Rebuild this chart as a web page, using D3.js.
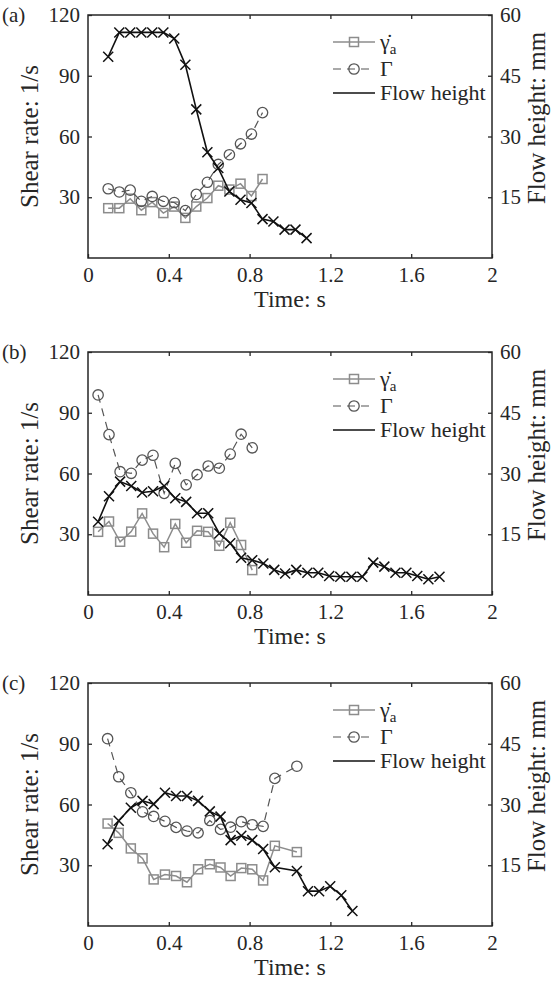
<!DOCTYPE html>
<html lang="en">
<head>
	<meta charset="UTF-8">
	<title>shear rate and flow height</title>
	<script src="https://d3js.org/d3.v7.min.js"></script>
	<style>
		body { margin: 0; background: #fff; }
		text { font-family: "Liberation Serif", serif; fill: #262626; }
	</style>
</head>
<body>
	<script type="text/javascript">
		// panel (a)
		var timeA = [0.10, 0.155, 0.209, 0.264, 0.318, 0.373, 0.427, 0.482, 0.536, 0.591, 0.645, 0.70, 0.755, 0.809, 0.864, 0.918, 0.973, 1.027, 1.082];
		var flowA = [49.7, 55.7, 55.7, 55.7, 55.7, 55.7, 54.2, 47.7, 36.7, 26.1, 22.2, 16.4, 14.4, 13.6, 9.6, 9.0, 7.0, 7.0, 4.9];
		var capGammaA = [34.2, 32.6, 33.5, 28.0, 30.4, 28.0, 27.4, 23.4, 31.4, 37.4, 46.2, 51.0, 56.4, 61.2, 71.8];
		var rateA = [24.6, 24.6, 29.3, 23.6, 27.6, 22.2, 25.4, 19.8, 25.4, 29.6, 35.7, 33.8, 36.7, 30.6, 39.0];

		// panel (b)
		var timeB = [0.05, 0.104, 0.159, 0.214, 0.268, 0.322, 0.377, 0.432, 0.486, 0.54, 0.595, 0.65, 0.704, 0.758, 0.813, 0.868, 0.922, 0.976, 1.031, 1.086, 1.14, 1.194, 1.249, 1.304, 1.358, 1.412, 1.467, 1.522, 1.576, 1.63, 1.685, 1.74];
		var flowB = [18.1, 24.4, 28.0, 26.9, 25.3, 25.6, 26.9, 23.9, 23.0, 20.2, 20.2, 15.2, 12.8, 9.2, 8.6, 7.8, 6.2, 5.3, 6.2, 5.5, 5.5, 4.7, 4.5, 4.5, 4.5, 8.0, 7.0, 5.5, 5.5, 4.7, 3.9, 4.5];
		var capGammaB = [98.8, 79.2, 60.9, 60.1, 66.6, 69.0, 50.2, 65.0, 54.4, 59.4, 63.7, 62.6, 69.6, 79.4, 72.7];
		var rateB = [31.2, 36.3, 26.3, 31.3, 40.3, 30.3, 23.6, 35.1, 25.8, 31.7, 31.2, 24.3, 35.7, 24.7, 12.3];

		// panel (c)
		var timeC = [0.097, 0.152, 0.212, 0.27, 0.325, 0.381, 0.436, 0.49, 0.545, 0.603, 0.656, 0.706, 0.759, 0.813, 0.867, 0.925, 1.034, 1.089, 1.144, 1.199, 1.254, 1.309];
		var flowC = [20.2, 26.0, 29.2, 30.9, 30.1, 32.9, 32.1, 32.1, 30.9, 28.3, 27.0, 21.2, 22.3, 21.2, 19.0, 14.5, 13.6, 8.6, 8.6, 9.8, 7.6, 3.7];
		var capGammaC = [92.5, 73.7, 65.8, 56.4, 54.1, 51.7, 48.7, 46.9, 46.0, 52.1, 47.7, 48.8, 51.5, 50.0, 49.2, 72.9, 78.9];
		var rateC = [50.6, 46.0, 38.3, 33.4, 23.0, 25.4, 24.7, 21.6, 28.0, 30.5, 28.9, 24.7, 28.6, 28.0, 22.5, 39.6, 36.5];

		var panelLabels = ["(a)", "(b)", "(c)"];
		var xTicks = [0, 0.4, 0.8, 1.2, 1.6, 2];
		var leftTicks = [30, 60, 90, 120];
		var rightTicks = [15, 30, 45, 60];

		var w = 551, h = 984;
		var left = 88, right = 492, plotH = 243;
		var tops = [15, 352, 683];

		var rateColor = "#8c8c8c", gammaColor = "#555555", flowColor = "#111111";

		var panels = [
			{t: timeA, flow: flowA, gam: capGammaA, rate: rateA},
			{t: timeB, flow: flowB, gam: capGammaB, rate: rateB},
			{t: timeC, flow: flowC, gam: capGammaC, rate: rateC}
		];

		var svg = d3.select("body").append("svg").attr("width", w).attr("height", h);

		var xScale = d3.scaleLinear().domain([0, 2]).range([left, right]);

		function cross(s) {
			return "M" + (-s) + "," + (-s) + "L" + s + "," + s + "M" + (-s) + "," + s + "L" + s + "," + (-s);
		}

		panels.forEach(function(p, k) {
			var top = tops[k], bottom = top + plotH;
			var yL = d3.scaleLinear().domain([0, 120]).range([bottom, top]);
			var yR = d3.scaleLinear().domain([0, 60]).range([bottom, top]);
			var g = svg.append("g");

			// axes with inward ticks
			var ax = g.append("g").attr("transform", "translate(0," + bottom + ")")
				.call(d3.axisBottom(xScale).tickValues(xTicks).tickSize(-4).tickSizeOuter(0).tickPadding(9)
					.tickFormat(function(d){ return String(d); }));
			g.append("g").attr("transform", "translate(0," + top + ")")
				.call(d3.axisTop(xScale).tickValues(xTicks.slice(1, 5)).tickSize(-4).tickSizeOuter(0).tickFormat(""));
			g.append("g").attr("transform", "translate(" + left + ",0)")
				.call(d3.axisLeft(yL).tickValues(leftTicks).tickSize(-4).tickSizeOuter(0).tickPadding(8));
			g.append("g").attr("transform", "translate(" + right + ",0)")
				.call(d3.axisRight(yR).tickValues(rightTicks).tickSize(-4).tickSizeOuter(0).tickPadding(8));

			g.selectAll(".domain").remove();
			g.selectAll(".tick line").attr("stroke", "#262626").attr("stroke-width", 1.3);
			g.selectAll(".tick text").attr("font-size", "21px").attr("font-family", "Liberation Serif").attr("fill", "#262626");
			ax.selectAll(".tick text").attr("dy", "0.71em");

			g.append("rect").attr("x", left).attr("y", top).attr("width", right - left).attr("height", plotH)
				.attr("fill", "none").attr("stroke", "#262626").attr("stroke-width", 1.5);

			// labels
			g.append("text").text(panelLabels[k]).attr("x", 2).attr("y", top + 7).attr("font-size", "21px");
			g.append("text").text("Time: s").attr("x", (left + right) / 2).attr("y", bottom + 49)
				.attr("text-anchor", "middle").attr("font-size", "24px");
			g.append("text").text("Shear rate: 1/s").attr("text-anchor", "middle").attr("font-size", "25px")
				.attr("transform", "translate(" + 38 + "," + (top + plotH / 2) + ") rotate(-90)");
			g.append("text").text("Flow height: mm").attr("text-anchor", "middle").attr("font-size", "25px")
				.attr("transform", "translate(" + 545 + "," + (top + 103) + ") rotate(-90)");

			// shear rate series (squares, solid)
			var idxR = d3.range(p.rate.length);
			g.append("path").datum(idxR)
				.attr("d", d3.line().x(function(i){ return xScale(p.t[i]); }).y(function(i){ return yL(p.rate[i]); }))
				.attr("fill", "none").attr("stroke", rateColor).attr("stroke-width", 1.5);
			g.selectAll(".sq").data(idxR).enter().append("rect")
				.attr("x", function(i){ return xScale(p.t[i]) - 4.5; })
				.attr("y", function(i){ return yL(p.rate[i]) - 4.5; })
				.attr("width", 9).attr("height", 9)
				.attr("fill", "none").attr("stroke", rateColor).attr("stroke-width", 1.5);

			// Gamma series (circles, dashed)
			var idxG = d3.range(p.gam.length);
			g.append("path").datum(idxG)
				.attr("d", d3.line().x(function(i){ return xScale(p.t[i]); }).y(function(i){ return yL(p.gam[i]); }))
				.attr("fill", "none").attr("stroke", gammaColor).attr("stroke-width", 1.2)
				.attr("stroke-dasharray", "8,6");
			g.selectAll(".ci").data(idxG).enter().append("circle")
				.attr("cx", function(i){ return xScale(p.t[i]); })
				.attr("cy", function(i){ return yL(p.gam[i]); })
				.attr("r", 5.2)
				.attr("fill", "none").attr("stroke", gammaColor).attr("stroke-width", 1.3);

			// flow height (crosses, right axis)
			var idxF = d3.range(p.flow.length);
			g.append("path").datum(idxF)
				.attr("d", d3.line().x(function(i){ return xScale(p.t[i]); }).y(function(i){ return yR(p.flow[i]); }))
				.attr("fill", "none").attr("stroke", flowColor).attr("stroke-width", 1.6);
			g.selectAll(".cr").data(idxF).enter().append("path")
				.attr("transform", function(i){ return "translate(" + xScale(p.t[i]) + "," + yR(p.flow[i]) + ")"; })
				.attr("d", cross(5))
				.attr("fill", "none").attr("stroke", flowColor).attr("stroke-width", 1.5);

			// legend
			var lx0 = 333, lx1 = 375, lm = 354, tx = 380;
			var r1 = top + 27, r2 = top + 54, r3 = top + 78;
			g.append("line").attr("x1", lx0).attr("x2", lx1).attr("y1", r1).attr("y2", r1)
				.attr("stroke", rateColor).attr("stroke-width", 1.5);
			g.append("rect").attr("x", lm - 4.5).attr("y", r1 - 4.5).attr("width", 9).attr("height", 9)
				.attr("fill", "#fff").attr("stroke", rateColor).attr("stroke-width", 1.5);
			g.append("line").attr("x1", lm - 4.5).attr("x2", lm + 4.5).attr("y1", r1).attr("y2", r1)
				.attr("stroke", rateColor).attr("stroke-width", 1.5);
			var t1 = g.append("text").attr("x", tx).attr("y", r1 + 7).attr("font-size", "22px");
			t1.append("tspan").text("\u03B3\u0307");
			t1.append("tspan").text("a").attr("font-size", "15px").attr("dy", "5");

			g.append("line").attr("x1", lx0).attr("x2", lx1).attr("y1", r2).attr("y2", r2)
				.attr("stroke", gammaColor).attr("stroke-width", 1.2).attr("stroke-dasharray", "8,6");
			g.append("circle").attr("cx", lm).attr("cy", r2).attr("r", 5.2)
				.attr("fill", "none").attr("stroke", gammaColor).attr("stroke-width", 1.3);
			g.append("text").text("\u0393").attr("x", tx).attr("y", r2 + 7).attr("font-size", "22px");

			g.append("line").attr("x1", lx0).attr("x2", lx1).attr("y1", r3).attr("y2", r3)
				.attr("stroke", flowColor).attr("stroke-width", 1.6);
			g.append("text").text("Flow height").attr("x", tx).attr("y", r3 + 7).attr("font-size", "22px");
		});
	</script>
</body>
</html>
